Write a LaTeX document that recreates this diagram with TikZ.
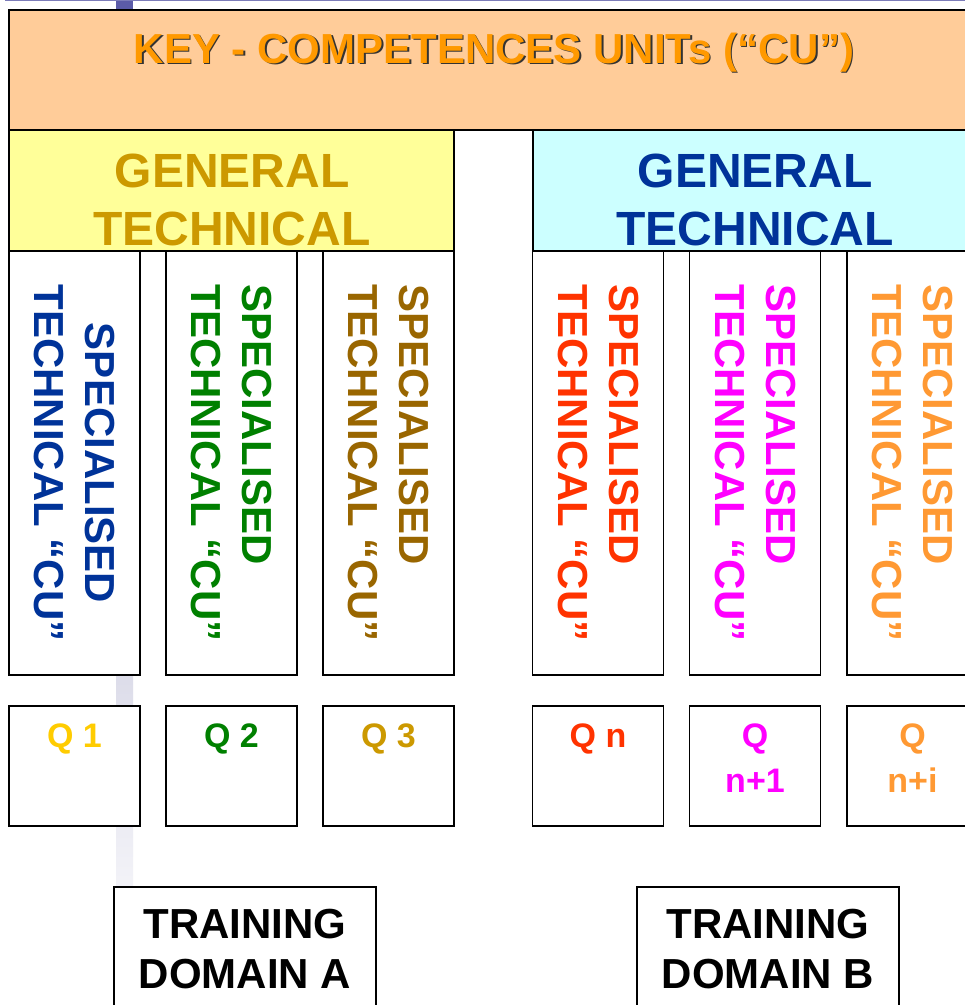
\documentclass[tikz,border=0pt]{standalone}
\usepackage{fontspec}
\setmainfont{Liberation Sans}
\definecolor{keyfill}{HTML}{FFCC99}
\definecolor{keytxt}{HTML}{FF9900}
\definecolor{yelfill}{HTML}{FFFF99}
\definecolor{cyanfill}{HTML}{CCFFFF}
\definecolor{cgold}{HTML}{CC9900}
\definecolor{cblue}{HTML}{003399}
\definecolor{cgreen}{HTML}{008000}
\definecolor{cbrown}{HTML}{996600}
\definecolor{cred}{HTML}{FF3300}
\definecolor{cmag}{HTML}{FF00FF}
\definecolor{corange}{HTML}{FF9933}
\definecolor{cyel}{HTML}{FFCC00}
\definecolor{barc}{HTML}{5B5BA8}
\definecolor{bartop}{HTML}{DCDCE9}
\definecolor{barbot}{HTML}{F3F3F8}
\begin{document}
\begin{tikzpicture}[x=1pt,y=-1pt,
  box/.style={draw=black,line width=1.5pt,rectangle,inner sep=0pt},
  vbox/.style={box,fill=white,minimum width=131pt,minimum height=424pt},
  qbox/.style={box,fill=white,minimum width=131pt,minimum height=120pt},
  trbox/.style={box,fill=white,minimum width=262pt,minimum height=130pt},
  vtext/.style={inner sep=0pt,rotate=-90,align=left,font=\bfseries\fontsize{42}{51}\selectfont},
  qtext/.style={inner sep=0pt,anchor=north,align=center,font=\bfseries\fontsize{34}{45}\selectfont},
  gtext/.style={inner sep=0pt,anchor=north,align=center,font=\bfseries\fontsize{48}{58}\selectfont},
  ttext/.style={inner sep=0pt,anchor=north,align=center,font=\bfseries\fontsize{42}{50}\selectfont}
]
\useasboundingbox (0,0) rectangle (965,1005);
\clip (0,0) rectangle (965,1005);
\fill[white] (0,0) rectangle (965,1005);
% background bar and top rule
\fill[barc] (116,-2) rectangle (133,12);
\shade[top color=bartop,bottom color=barbot] (116,670) rectangle (133,890);
\draw[barc!80,line width=1.5pt] (5,0.5) -- (975,0.5);
% header
\node[box,fill=keyfill,minimum width=969pt,minimum height=120pt] (key) at (493.5,70) {};
\node[inner sep=0pt,anchor=north,font=\bfseries\fontsize{42}{50}\selectfont,text=black!80] at (495.5,34) {KEY - COMPETENCES UNITs (“CU”)};
\node[inner sep=0pt,anchor=north,font=\bfseries\fontsize{42}{50}\selectfont,text=keytxt] (keyt) at (494,32.5) {KEY - COMPETENCES UNITs (“CU”)};
\node[box,fill=yelfill,minimum width=445pt,minimum height=121pt] (genA) at (231.5,190.5) {};
\node[gtext,text=cgold] at (232,154) {GENERAL\\TECHNICAL};
\node[box,fill=cyanfill,minimum width=445pt,minimum height=121pt] (genB) at (755.5,190.5) {};
\node[gtext,text=cblue] at (755,154) {GENERAL\\TECHNICAL};
% vertical boxes
\node[vbox] (v1) at (74.5,463) {};
\node[vbox] (v2) at (231.5,463) {};
\node[vbox] (v3) at (388.5,463) {};
\node[vbox] (v4) at (598,463) {};
\node[vbox] (v5) at (755,463) {};
\node[vbox] (v6) at (912.5,463) {};
\node[vtext,align=center,text=cblue] at (v1.center) {SPECIALISED\\TECHNICAL “CU”};
\node[vtext,text=cgreen] at (v2.center) {SPECIALISED\\TECHNICAL “CU”};
\node[vtext,text=cbrown] at (v3.center) {SPECIALISED\\TECHNICAL “CU”};
\node[vtext,text=cred] at (v4.center) {SPECIALISED\\TECHNICAL “CU”};
\node[vtext,text=cmag] at (v5.center) {SPECIALISED\\TECHNICAL “CU”};
\node[vtext,text=corange] at (v6.center) {SPECIALISED\\TECHNICAL “CU”};
% Q boxes
\node[qbox] (q1) at (74.5,766) {};
\node[qbox] (q2) at (231.5,766) {};
\node[qbox] (q3) at (388.5,766) {};
\node[qbox] (q4) at (598,766) {};
\node[qbox] (q5) at (755,766) {};
\node[qbox] (q6) at (912.5,766) {};
\node[qtext,text=cyel] at ([yshift=-18pt]q1.north) {Q 1};
\node[qtext,text=cgreen] at ([yshift=-18pt]q2.north) {Q 2};
\node[qtext,text=cgold] at ([yshift=-18pt]q3.north) {Q 3};
\node[qtext,text=cred] at ([yshift=-18pt]q4.north) {Q n};
\node[qtext,text=cmag] at ([yshift=-18pt]q5.north) {Q\\n+1};
\node[qtext,text=corange] at ([yshift=-18pt]q6.north) {Q\\n+i};
% training domains
\node[trbox] (trA) at (245,952) {};
\node[trbox] (trB) at (768,952) {};
\node[ttext] at (245,909) {TRAINING\\DOMAIN A};
\node[ttext] at (768,909) {TRAINING\\DOMAIN B};
\end{tikzpicture}
\end{document}
